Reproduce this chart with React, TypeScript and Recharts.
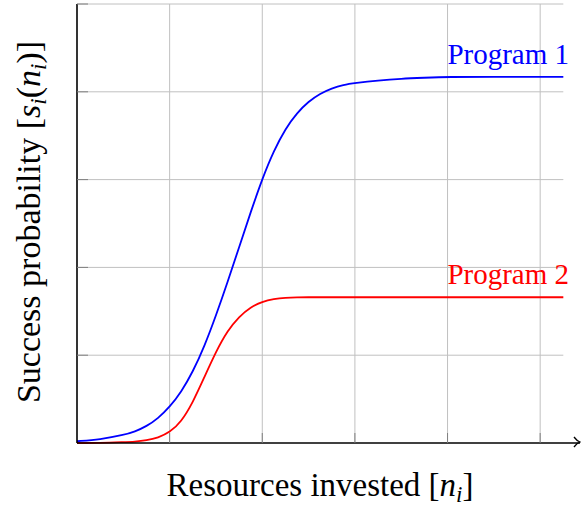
import { LineChart, Line, XAxis, YAxis, ReferenceLine, Label } from 'recharts'

// resources invested (x) and success probability of each program (y)
const resources = [0, 0.25, 0.5, 0.625, 0.75, 0.875, 1, 1.125, 1.25, 1.375, 1.5, 1.625, 1.75, 1.875, 2, 2.125, 2.25, 2.375, 2.5, 2.625, 2.75, 2.875, 3, 3.25, 3.5, 3.75, 4, 4.5, 5, 5.25]
const program1 = [0.02, 0.04, 0.09, 0.13, 0.19, 0.28, 0.41, 0.58, 0.81, 1.1, 1.45, 1.83, 2.23, 2.63, 3.01, 3.33, 3.58, 3.76, 3.89, 3.98, 4.04, 4.08, 4.1, 4.13, 4.15, 4.16, 4.17, 4.17, 4.17, 4.17]
const program2 = [0, 0, 0.01, 0.015, 0.03, 0.06, 0.12, 0.24, 0.46, 0.75, 1.04, 1.28, 1.44, 1.55, 1.61, 1.64, 1.655, 1.66, 1.66, 1.66, 1.66, 1.66, 1.66, 1.66, 1.66, 1.66, 1.66, 1.66, 1.66, 1.66]

const xTicks = [1, 2, 3, 4, 5]
const yTicks = [1, 2, 3, 4, 5]
const seriesNames = ['Program 1', 'Program 2']
const xEnd = 5.25

const data = resources.map((n, i) => ({ n, p1: program1[i], p2: program2[i] }))

const serif = "'Liberation Serif', 'Times New Roman', serif"
const gridColor = '#c0c0c0'

// x title, the axis arrow head and the two curve labels
function XDecor(props: any) {
  const { x, y, width } = props.viewBox
  const tipX = x + width
  return (
    <g style={{ fontFamily: serif }}>
      <path
        d={`M ${tipX - 6} ${y - 5} Q ${tipX - 3} ${y - 1} ${tipX} ${y} Q ${tipX - 3} ${y + 1} ${tipX - 6} ${y + 5}`}
        fill="none"
        stroke="#000"
        strokeWidth={1.3}
      />
      <text x={320} y={496} textAnchor="middle" fontSize={33} fill="#000">
        Resources invested [<tspan fontStyle="italic">n</tspan>
        <tspan fontStyle="italic" fontSize={23} dy={6}>i</tspan>
        <tspan dy={-6}>]</tspan>
      </text>
      <text x={569} y={64} textAnchor="end" fontSize={29} fill="#0000ff">
        {seriesNames[0]}
      </text>
      <text x={569} y={284} textAnchor="end" fontSize={29} fill="#ff0000">
        {seriesNames[1]}
      </text>
    </g>
  )
}

function YTitle() {
  return (
    <text x={40} y={222} transform="rotate(-90, 40, 222)" textAnchor="middle" style={{ fontFamily: serif }} fontSize={34} fill="#000">
      Success probability [<tspan fontStyle="italic">s</tspan>
      <tspan fontStyle="italic" fontSize={23} dy={6}>i</tspan>
      <tspan dy={-6}>(</tspan>
      <tspan fontStyle="italic">n</tspan>
      <tspan fontStyle="italic" fontSize={23} dy={6}>i</tspan>
      <tspan dy={-6}>)]</tspan>
    </text>
  )
}

const noLabel = () => <g />

export default function App() {
  return (
    <div style={{ position: 'absolute', left: 0, top: 0, background: '#fff' }}>
      <LineChart width={581} height={508} data={data} margin={{ top: 4, right: 1, left: 77, bottom: 65 }}>
        {xTicks.map((v) => (
          <ReferenceLine key={'x' + v} x={v} stroke={gridColor} strokeWidth={1} />
        ))}
        {yTicks.map((v) => (
          <ReferenceLine
            key={'y' + v}
            segment={[{ x: 0, y: v }, { x: xEnd, y: v }]}
            stroke={gridColor}
            strokeWidth={1}
          />
        ))}
        <XAxis
          dataKey="n"
          type="number"
          domain={[0, 5.43]}
          ticks={xTicks}
          height={1}
          mirror
          tick={noLabel}
          tickSize={10}
          tickLine={{ stroke: '#808080' }}
          axisLine={{ stroke: '#000', strokeWidth: 1.6 }}
        >
          <Label content={XDecor} />
        </XAxis>
        <YAxis
          type="number"
          domain={[0, 5]}
          ticks={yTicks}
          width={1}
          mirror
          tick={noLabel}
          tickSize={11}
          tickLine={{ stroke: '#808080' }}
          axisLine={{ stroke: '#000', strokeWidth: 1.6 }}
        >
          <Label content={YTitle} />
        </YAxis>
        <Line dataKey="p1" name={seriesNames[0]} type="basis" stroke="#0000ff" strokeWidth={1.8} dot={false} isAnimationActive={false} />
        <Line dataKey="p2" name={seriesNames[1]} type="basis" stroke="#ff0000" strokeWidth={1.8} dot={false} isAnimationActive={false} />
      </LineChart>
    </div>
  )
}
